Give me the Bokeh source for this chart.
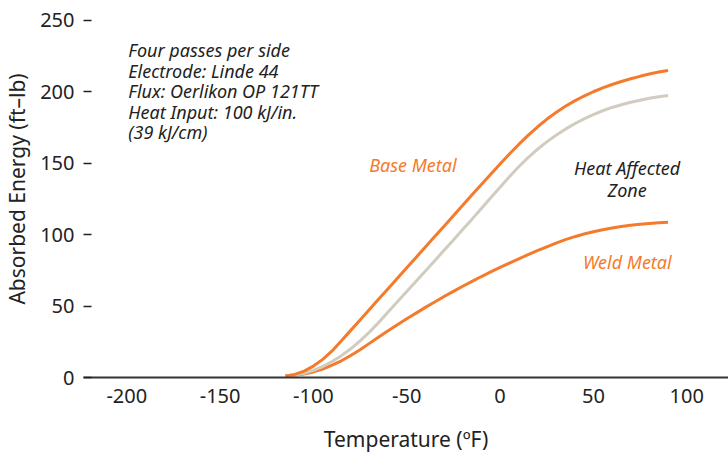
from bokeh.plotting import figure
from bokeh.models import Label, FixedTicker, Range1d
from bokeh.embed import file_html
from bokeh.resources import INLINE

# Data (every 5 ºF)
temp_f = [-115, -110, -105, -100, -95, -90, -85, -80, -75, -70, -65, -60,
          -55, -50, -45, -40, -35, -30, -25, -20, -15, -10, -5, 0, 5, 10,
          15, 20, 25, 30, 35, 40, 45, 50, 55, 60, 65, 70, 75, 80, 85, 90]
base_metal = [1.1, 2.2, 4.5, 8.0, 12.7, 18.6, 25.7, 33.0, 40.3, 47.6, 54.9, 62.2,
              69.5, 76.8, 84.1, 91.4, 98.7, 106.0, 113.3, 120.6, 127.9, 135.2, 142.4, 149.5, 156.5, 163.2,
              169.5, 175.4, 180.8, 185.6, 189.9, 193.7, 197.1, 200.1, 202.8, 205.2, 207.3, 209.2, 210.9, 212.5, 213.9, 215.0]
haz = [1.1, 1.7, 3.0, 5.0, 7.7, 11.2, 15.3, 20.1, 25.6, 31.8, 38.6, 45.8,
       53.0, 60.2, 67.4, 74.6, 81.8, 89.1, 96.3, 103.6, 110.9, 118.3, 125.8, 133.2, 140.6, 147.6,
       154.0, 159.8, 165.0, 169.7, 173.9, 177.7, 181.1, 184.1, 186.8, 189.1, 191.0, 192.7, 194.2, 195.5, 196.6, 197.5]
weld_metal = [1.0, 1.5, 2.5, 3.9, 5.9, 8.6, 11.7, 15.4, 19.5, 23.9, 28.3, 32.7,
              36.9, 41.1, 45.1, 49.1, 52.9, 56.7, 60.3, 63.9, 67.3, 70.7, 73.9, 77.1, 80.1, 83.1,
              86.0, 88.8, 91.5, 94.1, 96.5, 98.6, 100.5, 102.1, 103.5, 104.7, 105.7, 106.6, 107.3, 107.9, 108.4, 108.7]

x_ticks = [-200, -150, -100, -50, 0, 50, 100]
y_ticks = [0, 50, 100, 150, 200, 250]

note_lines = ["Four passes per side", "Electrode: Linde 44", "Flux: Oerlikon OP 121TT",
              "Heat Input: 100 kJ/in.", "(39 kJ/cm)"]

ORANGE = "#F47B2C"
GRAY = "#D2CBBF"
DARK = "#222222"
FONT = "Noto Sans"

p = figure(width=728, height=455, output_backend="svg", toolbar_location=None,
           x_range=Range1d(-223.2, 122.4), y_range=Range1d(0, 264),
           min_border_left=81, min_border_right=0, min_border_top=0,
           min_border_bottom=77)
p.outline_line_color = None
p.xgrid.grid_line_color = None
p.ygrid.grid_line_color = None
p.background_fill_color = "white"
p.border_fill_color = "white"

# x axis
xa = p.xaxis[0]
xa.ticker = FixedTicker(ticks=x_ticks)
xa.major_label_overrides = {t: str(t) for t in x_ticks}
xa.major_tick_in = 0
xa.major_tick_out = 0
xa.minor_tick_line_color = None
xa.axis_line_color = "#333333"
xa.axis_line_width = 2
xa.major_label_text_font = FONT
xa.major_label_text_font_size = "20px"
xa.major_label_text_color = DARK
xa.major_label_standoff = 11
xa.axis_label = "Temperature (ºF)"
xa.axis_label_text_font = FONT
xa.axis_label_text_font_size = "21px"
xa.axis_label_text_font_style = "normal"
xa.axis_label_text_color = DARK
xa.axis_label_standoff = 19

# y axis
ya = p.yaxis[0]
ya.ticker = FixedTicker(ticks=y_ticks)
ya.axis_line_color = None
ya.major_tick_in = 8
ya.major_tick_out = 0
ya.major_tick_line_color = DARK
ya.major_tick_line_width = 1.5
ya.minor_tick_line_color = None
ya.major_label_text_font = FONT
ya.major_label_text_font_size = "20px"
ya.major_label_text_color = DARK
ya.major_label_standoff = 9
ya.axis_label = "Absorbed Energy (ft–lb)"
ya.axis_label_text_font = FONT
ya.axis_label_text_font_size = "21px"
ya.axis_label_text_font_style = "normal"
ya.axis_label_text_color = DARK
ya.axis_label_standoff = 6

p.line(temp_f, weld_metal, line_color=ORANGE, line_width=3)
p.line(temp_f, haz, line_color=GRAY, line_width=3)
p.line(temp_f, base_metal, line_color=ORANGE, line_width=3)

note_y = [229, 214.7, 200.4, 186.1, 171.8]
for txt, yy in zip(note_lines, note_y):
    p.add_layout(Label(x=-199.2, y=yy, text=txt, text_font=FONT,
                       text_font_size="18px", text_font_style="italic",
                       text_color=DARK, text_baseline="middle", text_align="left"))

def add_label(x, y, txt, color):
    p.add_layout(Label(x=x, y=y, text=txt, text_font=FONT,
                       text_font_size="18px", text_font_style="italic",
                       text_color=color, text_baseline="middle", text_align="center"))

add_label(-46.7, 148.7, "Base Metal", ORANGE)
add_label(68.1, 146.6, "Heat Affected", DARK)
add_label(68.1, 131.3, "Zone", DARK)
add_label(68.2, 81.2, "Weld Metal", ORANGE)

open("out.html", "w").write(file_html(p, INLINE))
